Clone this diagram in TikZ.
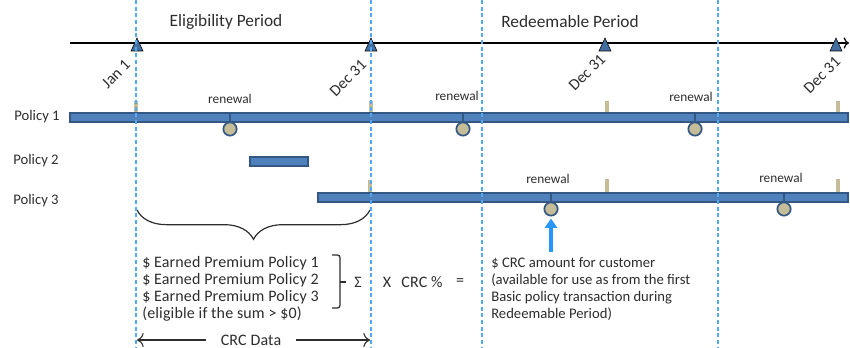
\documentclass[tikz,border=0pt]{standalone}
\usepackage{fontspec}
\setmainfont{Carlito}
\usetikzlibrary{arrows.meta,decorations.pathreplacing}

\definecolor{barblue}{RGB}{79,129,189}
\definecolor{bardark}{RGB}{52,88,132}
\definecolor{tickTan}{RGB}{196,189,151}
\definecolor{dashblue}{RGB}{85,168,245}
\definecolor{arrowblue}{RGB}{40,150,255}
\definecolor{txtgrey}{RGB}{45,45,45}

\tikzset{
  period/.style={draw=dashblue, line width=1pt, dash pattern=on 3pt off 2pt},
  policybar/.style={draw=bardark, fill=barblue, line width=0.8pt},
  renewtick/.style={draw=tickTan, line width=3pt},
  renewdot/.style={circle, draw=bardark, fill=tickTan, line width=1.3pt, minimum size=10pt, inner sep=0pt},
  stem/.style={draw=bardark, line width=1.3pt},
  datemark/.style={fill=barblue!85!black},
  lbl/.style={text=txtgrey, font=\fontsize{11}{12.75}\selectfont, inner sep=0.75pt},
  widelbl/.style={text=txtgrey, font=\fontsize{12}{12.75}\selectfont\addfontfeatures{LetterSpace=1}, inner sep=0.75pt},
  datelbl/.style={text=txtgrey, font=\fontsize{12}{14}\selectfont, inner sep=0.75pt},
  smalllbl/.style={text=txtgrey, font=\fontsize{10}{12}\selectfont, inner sep=0.75pt},
  titlelbl/.style={text=txtgrey, font=\fontsize{13}{15}\selectfont, inner sep=0.75pt},
}

\begin{document}
\begin{tikzpicture}[x=0.75pt,y=0.75pt,yscale=-1,xscale=1]
\useasboundingbox (0,0) rectangle (850,348);

%Shape: Timeline
\draw [line width=0.9pt, -{To[length=4pt]}] (70,43) -- (849,43) ;
%Shape: Triangle markers
\draw [datemark] (137,38) -- (143,51) -- (131,51) -- cycle ;
\draw [datemark] (371,38) -- (377,51) -- (365,51) -- cycle ;
\draw [datemark] (605,38) -- (611,51) -- (599,51) -- cycle ;
\draw [datemark] (836,38) -- (842,51) -- (830,51) -- cycle ;

% Text Node
\draw (226,22) node [titlelbl] (elig) {Eligibility Period};
% Text Node
\draw (570,22) node [titlelbl] (redeem) {Redeemable Period};
% Text Node
\draw (128.5,61.5) node [datelbl, rotate=45, anchor=east] (d0) {Jan 1};
% Text Node
\draw (364.5,61.5) node [datelbl, rotate=45, anchor=east] (d1) {Dec 31};
% Text Node
\draw (603.5,56) node [datelbl, rotate=45, anchor=east] (d2) {Dec 31};
% Text Node
\draw (838.5,58.5) node [datelbl, rotate=45, anchor=east] (d3) {Dec 31};

% Text Node
\draw (37,117) node [lbl] (pol1) {Policy 1};
% Text Node
\draw (36,161) node [lbl] (pol2) {Policy 2};
% Text Node
\draw (36,201) node [lbl] (pol3) {Policy 3};

%Shape: Ticks policy 1
\draw [renewtick] (136,101) -- (136,113) ;
\draw [renewtick] (371,101) -- (371,113) ;
\draw [renewtick] (607,101) -- (607,113) ;
\draw [renewtick] (838,101) -- (838,113) ;
%Shape: Ticks policy 3
\draw [renewtick] (370,180) -- (370,193) ;
\draw [renewtick] (607,179) -- (607,192) ;
\draw [renewtick] (838,179) -- (838,192) ;

%Shape: Rectangle policy 1
\draw [policybar] (70,113) -- (848,113) -- (848,122) -- (70,122) -- cycle ;
%Shape: Rectangle policy 2
\draw [policybar] (250,157) -- (308,157) -- (308,166) -- (250,166) -- cycle ;
%Shape: Rectangle policy 3
\draw [policybar] (318,193) -- (848,193) -- (848,202) -- (318,202) -- cycle ;

%Shape: Renewals policy 1
\draw (230,129) node [renewdot] (rn1) {};
\draw (463,129) node [renewdot] (rn2) {};
\draw (695,129) node [renewdot] (rn3) {};
\coordinate (s1) at (230,114);
\coordinate (s2) at (463,114);
\coordinate (s3) at (695,114);
\draw [stem] (s1) -- (rn1.north) ;
\draw [stem] (s2) -- (rn2.north) ;
\draw [stem] (s3) -- (rn3.north) ;
% Text Node
\draw (230,99) node [smalllbl] (rl1) {renewal};
% Text Node
\draw (457,96) node [smalllbl] (rl2) {renewal};
% Text Node
\draw (691,97) node [smalllbl] (rl3) {renewal};

%Shape: Renewals policy 3
\draw (551,209) node [renewdot] (rn4) {};
\draw (784,209) node [renewdot] (rn5) {};
\coordinate (s4) at (551,194);
\coordinate (s5) at (784,194);
\draw [stem] (s4) -- (rn4.north) ;
\draw [stem] (s5) -- (rn5.north) ;
% Text Node
\draw (548,179) node [smalllbl] (rl4) {renewal};
% Text Node
\draw (781,178) node [smalllbl] (rl5) {renewal};

%Shape: Arrow up to renewal
\coordinate (ab) at (551,252);
\draw [arrowblue, line width=3pt, -{Triangle[width=9pt,length=7pt]}, shorten >=1.5pt] (ab) -- (rn4.south) ;

%Shape: Brace under eligibility period
\draw [txtgrey, line width=0.9pt, decorate, decoration={brace, amplitude=22pt}] (370,210) -- (137,210) ;

% Text Node
\draw (141,288.5) node [widelbl, anchor=west, align=left] (earned) {\$ Earned Premium Policy 1\\
\$ Earned Premium Policy 2\\
\$ Earned Premium Policy 3\\
(eligible if the sum > \$0)};
%Shape: Bracket
\draw [txtgrey, line width=0.9pt, rounded corners=2pt] (332,255) -- (340,255) -- (340,308) -- (332,308) ;
\draw [txtgrey, line width=0.9pt] (340,282) -- (346,282) ;
% Text Node
\draw (358,282) node [widelbl] (sigma) {Σ};
% Text Node
\draw (387,282) node [widelbl] (times) {X};
% Text Node
\draw (422,282) node [widelbl] (pct) {CRC \%};
% Text Node
\draw (460,282) node [widelbl] (eq) {=};
% Text Node
\draw (490,288.5) node [lbl, anchor=west, align=left] (amount) {\$ CRC amount for customer\\
(available for use as from the first\\
Basic policy transaction during\\
Redeemable Period)};

% Text Node
\draw (251,340) node [widelbl] (crc) {CRC Data};
\coordinate (cl) at (137,340);
\coordinate (cr) at (370,340);
\draw [txtgrey, line width=0.8pt, -{To[length=5pt]}, shorten <=10pt] (crc.west) -- (cl) ;
\draw [txtgrey, line width=0.8pt, -{To[length=5pt]}, shorten <=10pt] (crc.east) -- (cr) ;

%Shape: Period lines
\draw [period] (136,0) -- (136,348) ;
\draw [period] (371,0) -- (371,348) ;
\draw [period] (482,0) -- (482,348) ;
\draw [period] (718,0) -- (718,348) ;

\end{tikzpicture}
\end{document}
